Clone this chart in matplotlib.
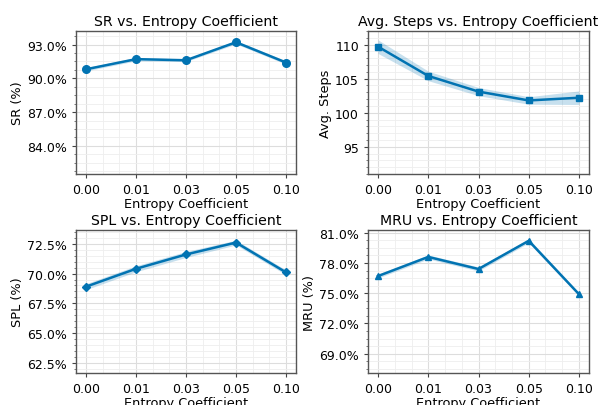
import matplotlib
matplotlib.use("Agg")
import matplotlib.pyplot as plt
from matplotlib.ticker import AutoMinorLocator, FuncFormatter
import numpy as np

coefs = ["0.00", "0.01", "0.03", "0.05", "0.10"]

sr = [90.8, 91.7, 91.6, 93.2, 91.4]
sr_err = [0.15, 0.15, 0.12, 0.15, 0.15]

steps = [109.7, 105.4, 103.1, 101.8, 102.2]
steps_err = [1.0, 0.7, 0.6, 0.55, 1.0]

spl = [68.9, 70.4, 71.6, 72.6, 70.1]
spl_err = [0.25, 0.25, 0.25, 0.2, 0.2]

mru = [76.7, 78.6, 77.4, 80.2, 74.9]
mru_err = [0.2, 0.2, 0.2, 0.2, 0.15]

panels = [
    dict(vals=sr, err=sr_err, title="SR vs. Entropy Coefficient", ylabel="SR (%)",
         marker="o", ms=5.5, ylim=(81.5, 94.2), ticks=[84, 87, 90, 93], pct=True),
    dict(vals=steps, err=steps_err, title="Avg. Steps vs. Entropy Coefficient", ylabel="Avg. Steps",
         marker="s", ms=5, ylim=(91.0, 112.0), ticks=[95, 100, 105, 110], pct=False),
    dict(vals=spl, err=spl_err, title="SPL vs. Entropy Coefficient", ylabel="SPL (%)",
         marker="D", ms=4.5, ylim=(61.66, 73.65), ticks=[62.5, 65.0, 67.5, 70.0, 72.5], pct=True),
    dict(vals=mru, err=mru_err, title="MRU vs. Entropy Coefficient", ylabel="MRU (%)",
         marker="^", ms=5, ylim=(67.08, 81.27), ticks=[69, 72, 75, 78, 81], pct=True),
]

rects = [
    [0.1267, 0.569, 0.3666, 0.3522],
    [0.6133, 0.569, 0.3684, 0.3522],
    [0.1267, 0.0788, 0.3666, 0.3522],
    [0.6133, 0.0788, 0.3684, 0.3522],
]

color = "#0173B2"
fig = plt.figure(figsize=(6.0, 4.06), dpi=100)
x = np.arange(len(coefs))

for rect, p in zip(rects, panels):
    ax = fig.add_axes(rect)
    v = np.array(p["vals"])
    e = np.array(p["err"])
    ax.fill_between(x, v - e, v + e, color=color, alpha=0.22, linewidth=0)
    ax.plot(x, v, color=color, linewidth=1.8, marker=p["marker"], markersize=p["ms"])
    ax.set_xticks(x)
    ax.set_xticklabels(coefs, fontsize=9)
    ax.set_xlim(-0.2, 4.2)
    ax.set_ylim(*p["ylim"])
    ax.set_yticks(p["ticks"])
    if p["pct"]:
        ax.yaxis.set_major_formatter(FuncFormatter(lambda val, pos: f"{val:.1f}%"))
    ax.tick_params(axis="both", labelsize=9, length=3, color="#444444")
    ax.xaxis.set_minor_locator(AutoMinorLocator(3))
    ax.yaxis.set_minor_locator(AutoMinorLocator())
    ax.tick_params(axis="x", which="minor", length=0)
    ax.tick_params(axis="y", which="minor", length=1.8, color="#666666")
    ax.grid(True, which="major", color="#dddddd", linewidth=0.8)
    ax.grid(True, which="minor", color="#eeeeee", linewidth=0.6)
    ax.set_axisbelow(True)
    for s in ax.spines.values():
        s.set_color("#555555")
        s.set_linewidth(1.0)
    ax.set_title(p["title"], fontsize=10.2, pad=4)
    ax.set_xlabel("Entropy Coefficient", fontsize=9.3, labelpad=1)
    ax.set_ylabel(p["ylabel"], fontsize=9.3, labelpad=2)

fig.savefig("out.png", dpi=100)
